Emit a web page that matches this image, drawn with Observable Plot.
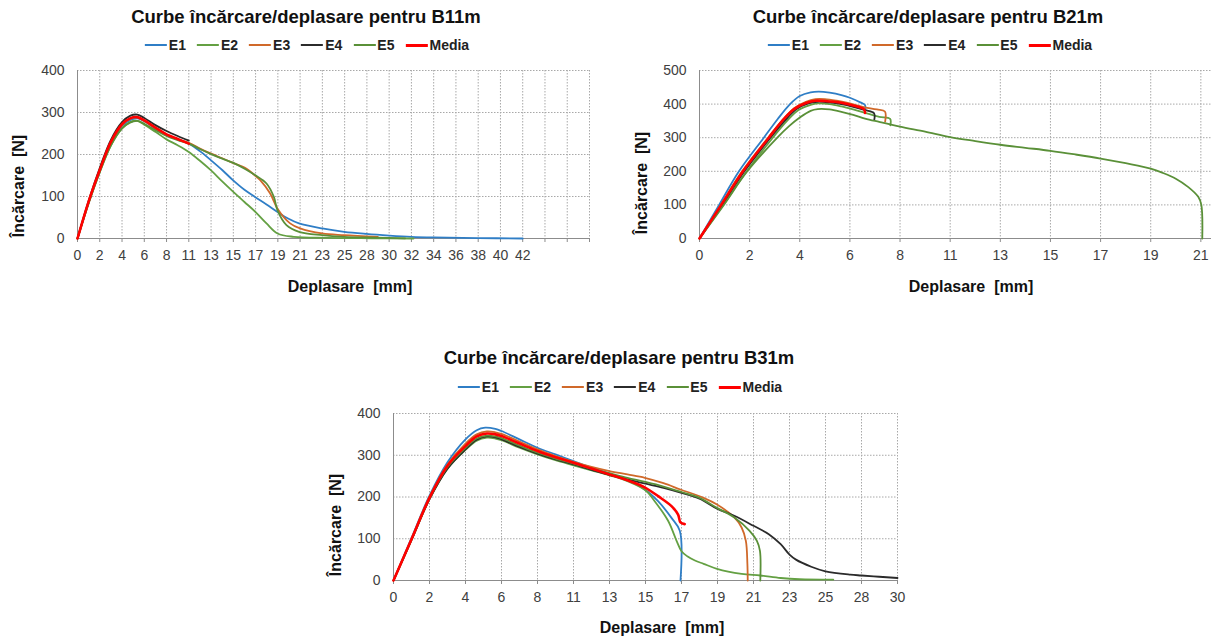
<!DOCTYPE html>
<html><head><meta charset="utf-8">
<script src="https://cdn.jsdelivr.net/npm/d3@7"></script>
<script src="https://cdn.jsdelivr.net/npm/@observablehq/plot@0.6"></script>
<style>
body{margin:0;background:#fff;}
#wrap{position:relative;width:1213px;height:640px;font-family:"Liberation Sans",Arial,sans-serif;overflow:hidden;background:#fff}
.abs{position:absolute;white-space:pre;line-height:1}
.title{font-weight:bold;font-size:18.5px;color:#111;transform:translate(-50%,-50%)}
.legend{display:flex;align-items:center;gap:11px;transform:translate(-50%,-50%);font-weight:bold;font-size:14px;color:#222}
.legend .item{display:flex;align-items:center}
.legend .sw{display:inline-block;width:22px;margin-right:2px}
.xt{font-weight:bold;font-size:16px;color:#111;transform:translate(-50%,-50%)}
.yt{font-weight:bold;font-size:16px;color:#111;transform:translate(-50%,-50%) rotate(-90deg)}
.plot{position:absolute}
</style>
</head><body><div id="wrap"></div>
<script>
// ---------- data ----------
const seriesNames = ["E1","E2","E3","E4","E5","Media"];
const seriesColors = ["#2f7ec6","#64a043","#d0692a","#2b2b2b","#5a9038","#ff0000"];
const xStep = 2.12; // mm between labelled ticks
const yAxisTitle = "Încărcare  [N]";
const xAxisTitle = "Deplasare  [mm]";

// B11m
const b11Title = "Curbe încărcare/deplasare pentru B11m";
const b11TickLabels = [0,2,4,6,8,11,13,15,17,19,21,23,25,28,30,32,34,36,38,40,42];
const b11E1 = [[0,0],[1.06,86],[2.12,162],[3.18,227],[4.24,268],[5.0,282],[5.7,286],[6.36,279],[7.42,262],[8.48,247],[9.54,236],[10.6,226],[11.66,208],[12.72,186],[13.78,163],[14.8,139],[15.9,116],[16.9,99],[18.0,81],[19.05,63],[20.1,47],[21.1,36],[23.3,24],[25.4,16],[27.5,11],[29.7,7],[31.8,4],[33.9,2.5],[38.2,1],[42.4,0]];
const b11E2 = [[0,0],[1.06,84],[2.12,158],[3.18,221],[4.24,262],[5.0,277],[5.7,280],[6.36,271],[7.42,254],[8.48,236],[9.54,222],[10.6,206],[11.66,185],[12.72,162],[13.78,136],[14.84,111],[15.9,87],[16.96,63],[18.0,36],[19.05,12],[20.6,4],[23.8,1.5],[28,0.5],[32,0]];
const b11E3 = [[0,0],[1.06,87],[2.12,163],[3.18,229],[4.24,271],[5.0,285],[5.7,288],[6.36,280],[7.42,263],[8.48,247],[9.54,236],[10.6,228],[11.66,214],[12.72,202],[13.78,191],[14.8,180],[16.1,166],[16.9,150],[17.4,139],[18.35,107],[19.05,71],[20.25,36],[21.2,24],[23.3,12],[25.4,8],[28.6,4]];
const b11E4 = [[0,0],[1.06,90],[2.12,168],[3.18,235],[4.24,277],[5.0,292],[5.7,295],[6.36,287],[7.42,270],[8.48,256],[9.54,244],[10.6,233]];
const b11E5 = [[0,0],[1.06,84],[2.12,158],[3.18,222],[4.24,262],[5.0,276],[5.7,280],[6.36,273],[7.42,258],[8.48,244],[9.54,234],[10.6,226],[11.66,213],[12.72,201],[13.78,190],[14.84,180],[16.0,165],[16.9,151],[18.0,131],[18.7,99],[19.05,67],[19.9,32],[21.1,16],[23.3,8],[25.4,4],[28.6,2],[31.2,0.5]];
const b11Media = [[0,0],[1.06,88],[2.12,163],[3.18,230],[4.24,272],[5.0,286],[5.7,289],[6.36,281],[7.42,264],[8.48,248],[9.54,237],[10.6,226]];

// B21m
const b21Title = "Curbe încărcare/deplasare pentru B21m";
const b21TickLabels = [0,2,4,6,8,11,13,15,17,19,21];
const b21E1 = [[0,0],[0.83,100],[1.67,200],[2.72,300],[3.3,355],[3.8,398],[4.24,424],[4.7,435],[5.05,437],[5.5,434],[6.0,427],[6.36,419],[6.8,405],[7.0,397],[7.01,383]];
const b21E2 = [[0,0],[1.0,100],[2.0,200],[3.1,300],[3.7,350],[4.2,383],[4.7,398],[5.0,402],[5.5,400],[6.0,393],[6.5,384],[7.0,374],[7.6,362],[8.06,356],[8.07,337]];
const b21E3 = [[0,0],[0.9,100],[1.8,200],[2.9,300],[3.5,352],[4.0,388],[4.5,407],[4.9,415],[5.3,415],[5.8,410],[6.36,402],[6.9,392],[7.5,384],[7.84,378],[7.85,348]];
const b21E4 = [[0,0],[0.95,100],[1.9,200],[3.0,300],[3.6,350],[4.1,385],[4.6,402],[5.0,407],[5.5,405],[6.0,400],[6.5,392],[7.0,382],[7.38,373],[7.39,353]];
const b21E5 = [[0,0],[1.03,100],[2.02,200],[3.29,300],[3.8,335],[4.24,360],[4.7,380],[5.0,385],[5.5,384],[6.0,377],[6.5,368],[7.0,357],[7.6,347],[8.48,333],[9.54,318],[10.6,302],[11.66,290],[12.72,279],[13.78,270],[14.84,261],[15.9,250],[16.96,238],[18.02,224],[19.08,208],[19.6,195],[20.14,178],[20.67,153],[21.09,124],[21.22,100],[21.26,0]];
const b21Media = [[0,0],[0.92,100],[1.84,200],[2.93,300],[3.5,350],[4.0,385],[4.5,403],[4.9,410],[5.3,409],[6.0,404],[6.5,396],[6.95,385],[7.0,374]];

// B31m
const b31Title = "Curbe încărcare/deplasare pentru B31m";
const b31TickLabels = [0,2,4,6,8,11,13,15,17,19,21,23,25,28,30];
const b31E1 = [[0,0],[1.06,102],[2.12,203],[3.18,283],[4.24,338],[4.9,360],[5.4,366],[6.0,363],[6.36,358],[7.42,338],[8.48,318],[9.54,302],[10.6,286],[11.66,270],[12.72,256],[13.78,240],[14.84,217],[15.58,190],[16.37,150],[16.86,119],[16.9,0]];
const b31E2 = [[0,0],[1.06,97],[2.12,195],[3.18,268],[4.24,313],[4.9,335],[5.5,342],[6.0,340],[6.36,336],[7.42,318],[8.48,302],[9.54,288],[10.6,276],[11.66,264],[12.72,252],[13.78,238],[14.84,216],[15.38,190],[16.17,143],[16.67,95],[16.96,70],[17.3,58],[17.75,48],[18.26,40],[19.05,28],[20.5,16],[21.6,12],[22.8,6],[23.9,3],[25.9,2]];
const b31E3 = [[0,0],[1.06,99],[2.12,200],[3.18,278],[4.24,328],[4.9,350],[5.5,357],[6.0,355],[6.36,351],[7.42,333],[8.48,314],[9.54,298],[10.6,284],[11.66,272],[12.72,262],[13.78,254],[14.8,246],[15.9,233],[16.9,218],[18.26,198],[19.05,182],[20.07,151],[20.5,127],[20.75,95],[20.84,40],[20.86,0]];
const b31E4 = [[0,0],[1.06,97],[2.12,195],[3.18,268],[4.24,314],[4.9,337],[5.5,345],[6.0,343],[6.36,338],[7.42,320],[8.48,304],[9.54,290],[10.6,278],[11.66,265],[12.72,253],[13.78,242],[14.84,232],[15.9,222],[16.96,210],[18.02,196],[19.05,172],[20.07,155],[21.2,131],[22.1,111],[22.8,87],[23.32,62],[23.7,50],[24.6,33],[25.44,22],[26.9,14],[27.56,12],[28.6,9],[29.68,6]];
const b31E5 = [[0,0],[1.06,98],[2.12,197],[3.18,272],[4.24,318],[4.9,340],[5.5,347],[6.0,345],[6.36,341],[7.42,323],[8.48,306],[9.54,292],[10.6,280],[11.66,268],[12.72,257],[13.78,246],[14.84,236],[15.9,225],[16.96,212],[18.02,198],[19.05,174],[20.07,151],[20.97,119],[21.4,95],[21.58,71],[21.6,0]];
const b31Media = [[0,0],[1.06,99],[2.12,198],[3.18,275],[4.24,322],[4.9,345],[5.5,352],[6.0,350],[6.36,346],[7.42,328],[8.48,310],[9.54,295],[10.6,282],[11.66,268],[12.72,254],[13.78,240],[14.84,222],[15.58,202],[16.37,178],[16.76,158],[16.9,139],[17.15,135]];

// ---------- layout ----------
const panels = [
  {title:b11Title, labels:b11TickLabels, nTicks:23, xMax:23*xStep, yMax:400,
   data:[b11E1,b11E2,b11E3,b11E4,b11E5,b11Media],
   left:0, top:60, w:600, h:240, mt:10, mb:62, ml:77, mr:11,
   tx:306, ty:17, lx:307, ly:45, xtx:350, xty:287, ytx:19, yty:186},
  {title:b21Title, labels:b21TickLabels, nTicks:10, xMax:21.65, yMax:500,
   data:[b21E1,b21E2,b21E3,b21E4,b21E5,b21Media],
   left:620, top:60, w:593, h:240, mt:10, mb:62, ml:79, mr:2,
   tx:928, ty:17, lx:930, ly:45, xtx:971, xty:287, ytx:642, yty:183},
  {title:b31Title, labels:b31TickLabels, nTicks:14, xMax:14*xStep, yMax:400,
   data:[b31E1,b31E2,b31E3,b31E4,b31E5,b31Media],
   left:320, top:400, w:600, h:230, mt:13, mb:50, ml:73, mr:23,
   tx:619, ty:358, lx:620, ly:387, xtx:662, xty:628, ytx:336, yty:525}
];

const wrap = document.getElementById("wrap");
function addDiv(cls, text, x, y){
  const d = document.createElement("div");
  d.className = "abs " + cls;
  d.textContent = text;
  d.style.left = x + "px"; d.style.top = y + "px";
  wrap.appendChild(d);
  return d;
}

panels.forEach(p => {
  addDiv("title", p.title, p.tx, p.ty);
  const lg = document.createElement("div");
  lg.className = "abs legend";
  lg.style.left = p.lx + "px"; lg.style.top = p.ly + "px";
  seriesNames.forEach((s, i) => {
    const it = document.createElement("div"); it.className = "item";
    const sw = document.createElement("span"); sw.className = "sw";
    sw.style.borderTop = (s === "Media" ? 3 : 2) + "px solid " + seriesColors[i];
    const t = document.createElement("span"); t.textContent = s;
    it.appendChild(sw); it.appendChild(t); lg.appendChild(it);
  });
  wrap.appendChild(lg);
  addDiv("xt", xAxisTitle, p.xtx, p.xty);
  addDiv("yt", yAxisTitle, p.ytx, p.yty);

  const ticksX = d3.range(p.nTicks + 1).map(i => i * xStep);
  const ticksY = d3.range(0, p.yMax + 1, 100);
  const lines = p.data.map((arr, i) => Plot.line(arr, {
    x: d => d[0], y: d => d[1], stroke: seriesColors[i],
    strokeWidth: seriesNames[i] === "Media" ? 2.6 : 1.8, curve: "catmull-rom"
  }));
  const chart = Plot.plot({
    width: p.w, height: p.h,
    marginTop: p.mt, marginBottom: p.mb, marginLeft: p.ml, marginRight: p.mr,
    x: {domain: [0, p.xMax]},
    y: {domain: [0, p.yMax]},
    style: {fontFamily: '"Liberation Sans", Arial, sans-serif', fontSize: "14px", color: "#404040", background: "transparent", overflow: "visible"},
    marks: [
      Plot.gridX(ticksX, {stroke: "#a8a8a8", strokeOpacity: 1, strokeDasharray: "1.5,1.5"}),
      Plot.gridY(ticksY, {stroke: "#a8a8a8", strokeOpacity: 1, strokeDasharray: "1.5,1.5"}),
      Plot.ruleY([0], {stroke: "#8c8c8c"}),
      Plot.ruleX([0], {stroke: "#8c8c8c"}),
      Plot.axisX(ticksX, {tickSize: 4, tickPadding: 8, stroke: "#8c8c8c", label: null,
        tickFormat: d => { const l = p.labels[Math.round(d / xStep)]; return l === undefined ? "" : String(l); }}),
      Plot.axisY(ticksY, {tickSize: 0, tickPadding: 13, label: null}),
      ...lines
    ]
  });
  chart.classList.add("plot");
  chart.style.left = p.left + "px"; chart.style.top = p.top + "px";
  wrap.appendChild(chart);
});
</script>
</body></html>
